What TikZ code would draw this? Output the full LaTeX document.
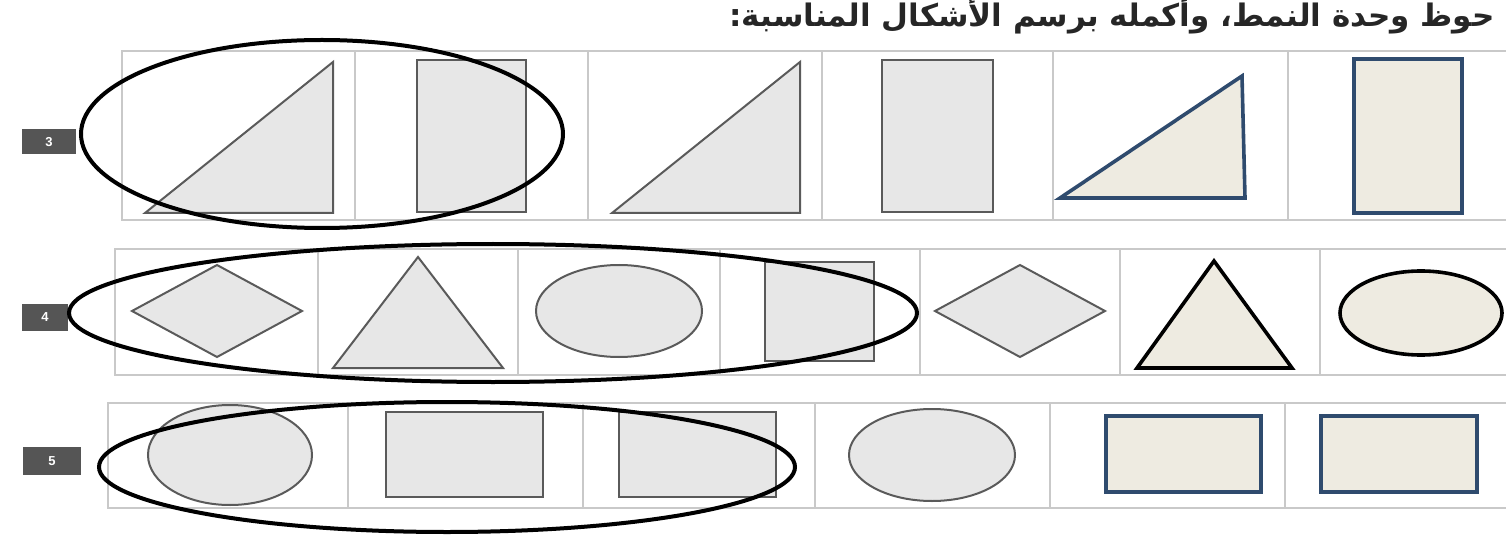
\documentclass[tikz,border=0pt]{standalone}
\usepackage{fontspec}
\newfontfamily\arabicfont[Script=Arabic]{DejaVu Sans}
\setsansfont{Liberation Sans}
\TeXXeTstate=1
\definecolor{cellline}{HTML}{C9C9C9}
\definecolor{shapefill}{HTML}{E7E7E7}
\definecolor{shapeline}{HTML}{5A5A5A}
\definecolor{beige}{HTML}{EEEBE1}
\definecolor{bluestroke}{HTML}{2F4B6E}
\definecolor{labelgrey}{HTML}{555555}
\tikzset{
  cellgrid/.style={draw=cellline, line width=1.6pt},
  greyshape/.style={fill=shapefill, draw=shapeline, line width=2pt, line join=miter},
  blueshape/.style={fill=beige, draw=bluestroke, line width=3.6pt, line join=miter},
  blackshape/.style={fill=beige, draw=black, line width=3.6pt, line join=miter},
  ring/.style={draw=black, line width=4pt},
  numlabel/.style={fill=labelgrey, text=white, font=\sffamily\bfseries\fontsize{13}{13}\selectfont, inner sep=0pt, anchor=center},
}
\begin{document}
\begin{tikzpicture}[x=1pt,y=-1pt]
\useasboundingbox (0,0) rectangle (1506,537);
% heading
\node[anchor=base east, inner sep=0pt, font=\arabicfont\bfseries\fontsize{31}{31}\selectfont, text=black!85] (heading) at (1495,27) {\beginR حوظ وحدة النمط، وأكمله برسم الأشكال المناسبة:\endR};

% ---------- row 3 ----------
\draw[cellgrid] (1506,51) -- (122,51) -- (122,220) -- (1506,220);
\foreach \x in {355,588,822,1053,1288} \draw[cellgrid] (\x,51) -- (\x,220);
\node[numlabel, minimum width=54pt, minimum height=25pt] (lab3) at (49,142) {3};
\draw[greyshape] (145,213) -- (333,62) -- (333,213) -- cycle;
\draw[greyshape] (417,60) rectangle (526,212);
\draw[greyshape] (612,213) -- (800,62) -- (800,213) -- cycle;
\draw[greyshape] (882,60) rectangle (993,212);
\draw[blueshape] (1060,198) -- (1242,76) -- (1245,198) -- cycle;
\draw[blueshape] (1354,59) rectangle (1462,213);
\draw[ring] (322,134) ellipse [x radius=241, y radius=94];

% ---------- row 4 ----------
\draw[cellgrid] (1506,249) -- (115,249) -- (115,375) -- (1506,375);
\foreach \x in {318,518,720,920,1120,1320} \draw[cellgrid] (\x,249) -- (\x,375);
\node[numlabel, minimum width=46pt, minimum height=27pt] (lab4) at (45,317) {4};
\draw[greyshape] (132,311) -- (217,265) -- (302,311) -- (217,357) -- cycle;
\draw[greyshape] (333,368) -- (418,257) -- (503,368) -- cycle;
\draw[greyshape] (619,311) ellipse [x radius=83, y radius=46];
\draw[greyshape] (765,262) rectangle (874,361);
\draw[greyshape] (935,311) -- (1020,265) -- (1105,311) -- (1020,357) -- cycle;
\draw[blackshape] (1137,368) -- (1214,261) -- (1292,368) -- cycle;
\draw[blackshape] (1421,313) ellipse [x radius=81, y radius=42];
\draw[ring] (493,313) ellipse [x radius=424, y radius=69];

% ---------- row 5 ----------
\draw[cellgrid] (1506,403) -- (108,403) -- (108,508) -- (1506,508);
\foreach \x in {348,583,815,1050,1285} \draw[cellgrid] (\x,403) -- (\x,508);
\node[numlabel, minimum width=58pt, minimum height=28pt] (lab5) at (52,461) {5};
\draw[greyshape] (230,455) ellipse [x radius=82, y radius=50];
\draw[greyshape] (386,412) rectangle (543,497);
\draw[greyshape] (619,412) rectangle (776,497);
\draw[greyshape] (932,455) ellipse [x radius=83, y radius=46];
\draw[blueshape] (1106,416) rectangle (1261,492);
\draw[blueshape] (1321,416) rectangle (1477,492);
\draw[ring] (447,467) ellipse [x radius=348, y radius=65];
\end{tikzpicture}
\end{document}
